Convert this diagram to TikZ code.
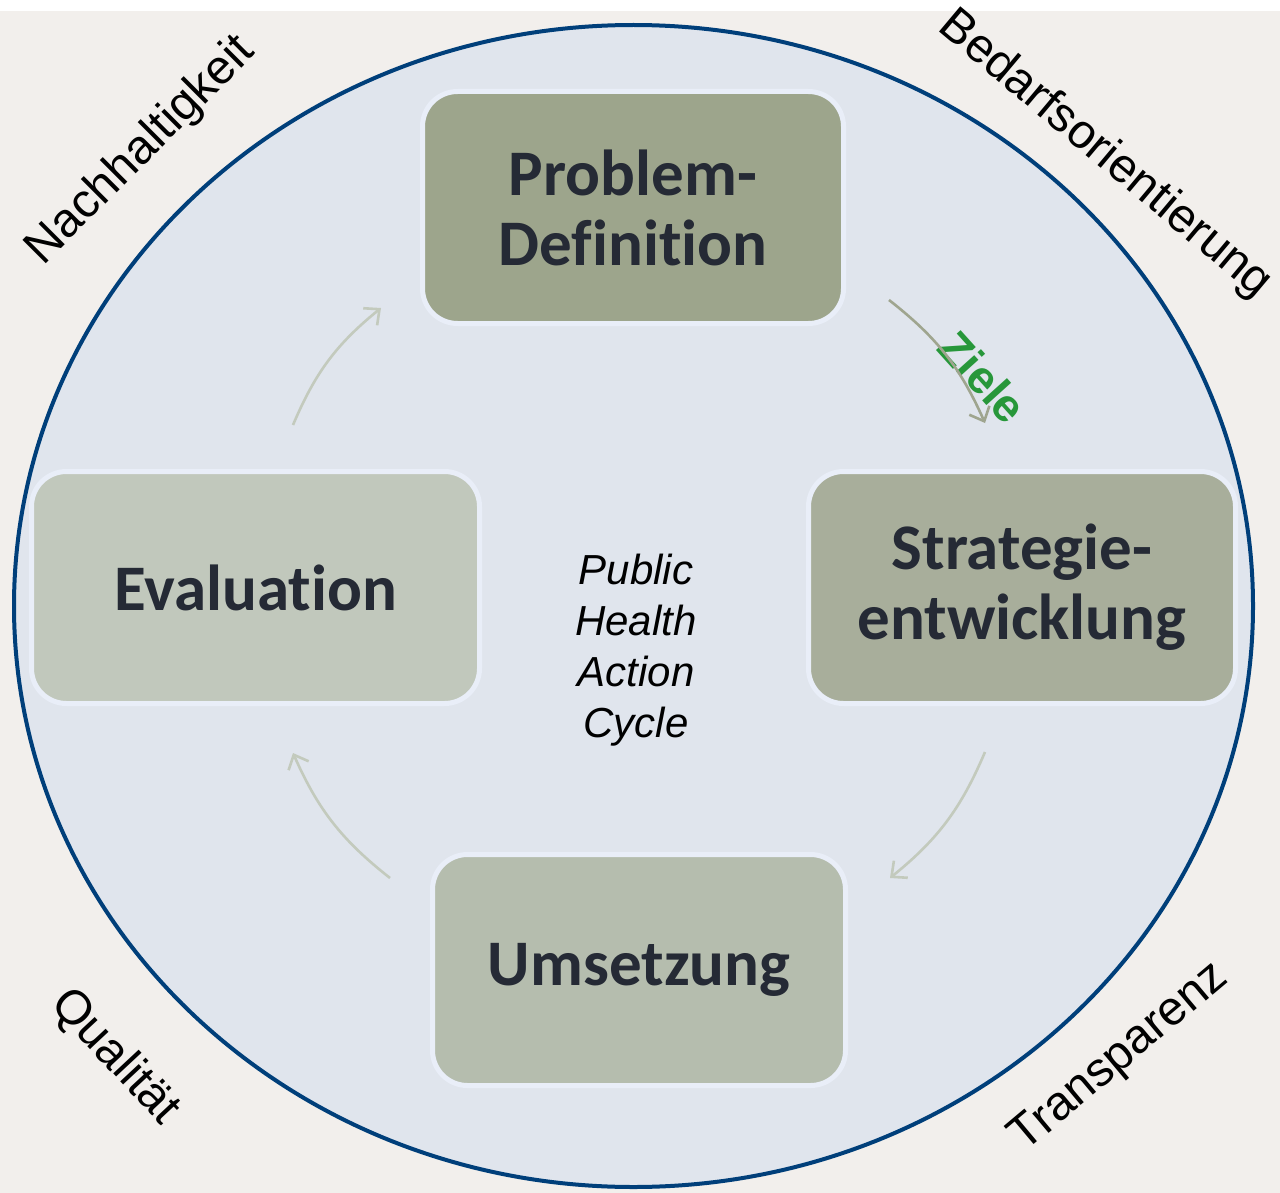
\documentclass[tikz,border=0pt]{standalone}
\usepackage{fontspec}
\setmainfont{Liberation Sans}
\newfontfamily\calibri[Ligatures={NoCommon,NoContextual},Contextuals=NoAlternate]{Carlito}
\usetikzlibrary{arrows.meta}

\definecolor{bgwarm}{HTML}{F2EFEC}
\definecolor{ringfill}{HTML}{E0E5ED}
\definecolor{ringline}{HTML}{003F7A}
\definecolor{boxline}{HTML}{E9EEF8}
\definecolor{probfill}{HTML}{9DA58C}
\definecolor{stratfill}{HTML}{A8AE9B}
\definecolor{umsfill}{HTML}{B5BDAE}
\definecolor{evalfill}{HTML}{C1C8BC}
\definecolor{boxtext}{HTML}{252A35}
\definecolor{zielgreen}{HTML}{27973A}
\definecolor{arrowdark}{HTML}{9FA58F}
\definecolor{arrowlight}{HTML}{C3CABD}

\begin{document}
\begin{tikzpicture}[x=0.5pt,y=-0.5pt,
  box node/.style={rectangle,rounded corners=17.5pt,draw=boxline,line width=2.5pt,inner sep=0pt,
    text=boxtext,align=center,font=\calibri\bfseries\fontsize{32.5}{35}\selectfont,minimum height=116pt},
  corner/.style={inner sep=0pt,font=\fontsize{24}{27}\selectfont},
  trans/.style={line width=1.3pt,-{Straight Barb[length=6pt,width=11pt]},bend left=14}]

  \useasboundingbox (0,0) rectangle (1280,1193);
  \fill[white] (0,0) rectangle (1280,1193);
  \fill[bgwarm] (0,11) rectangle (1280,1193);
  \draw[fill=ringfill,draw=ringline,line width=2pt] (633.5,606) ellipse [x radius=309.75pt,y radius=290.5pt];

  % the four steps
  \node[box node,fill=probfill,minimum width=210.5pt]  (prob)  at (633,207.5) {Problem-\\Definition};
  \node[box node,fill=stratfill,minimum width=213.5pt] (strat) at (1022,587.5) {Strategie-\\entwicklung};
  \node[box node,fill=umsfill,minimum width=206.5pt,minimum height=115.5pt] (ums) at (639,970) {Umsetzung};
  \node[box node,fill=evalfill,minimum width=224pt]   (eval)  at (255.5,587.5) {Evaluation};

  \node[align=center,inner sep=0pt,font=\itshape\fontsize{21}{25.5}\selectfont] (phac) at (636,650)
    {Public\\Health\\Action\\Cycle};

  \node[rotate=-48,inner sep=0pt,text=zielgreen,font=\bfseries\fontsize{23}{26}\selectfont] (ziele) at (983,377) {Ziele};

  % ends of the cycle arrows
  \coordinate (z1) at (889,300);
  \coordinate (z2) at (985,423);
  \coordinate (s1) at (985,752);
  \coordinate (s2) at (890,878);
  \coordinate (u1) at (390,878);
  \coordinate (u2) at (293,753);
  \coordinate (e1) at (293,425);
  \coordinate (e2) at (381,308);

  \draw[trans,arrowdark]  (z1) to (z2);
  \draw[trans,arrowlight] (s1) to (s2);
  \draw[trans,arrowlight] (u1) to (u2);
  \draw[trans,arrowlight] (e1) to (e2);

  % values round the ring
  \node[corner,rotate=45]  (nach) at (141,151)  {Nachhaltigkeit};
  \node[corner,rotate=-40] (bed)  at (1105,155) {Bedarfsorientierung};
  \node[corner,rotate=-47] (qual) at (115,1057) {Qualität};
  \node[corner,rotate=40]  (trn)  at (1120,1058) {Transparenz};
\end{tikzpicture}
\end{document}
